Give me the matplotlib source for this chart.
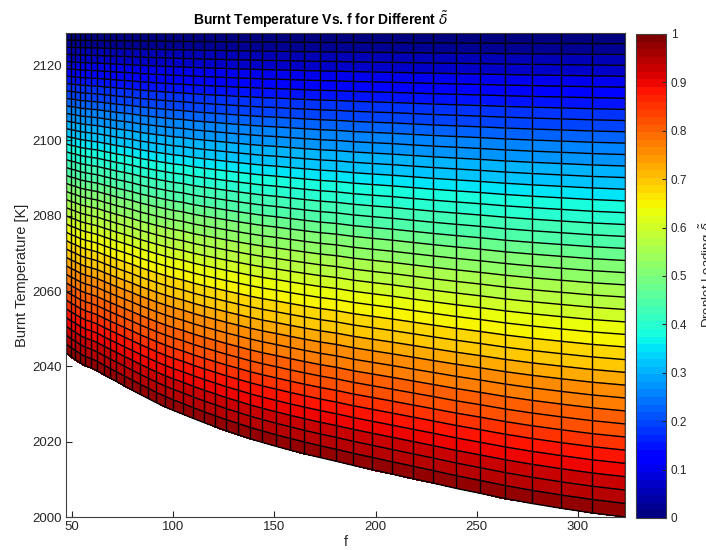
import numpy as np
import matplotlib
matplotlib.use('Agg')
import matplotlib.pyplot as plt

plt.rcParams['font.family'] = ['Liberation Sans', 'DejaVu Sans']
plt.rcParams['mathtext.fontset'] = 'dejavusans'

# mesh columns (f values)
f_vals = [47.0, 49.4, 51.6, 54.1, 56.6, 59.4, 62.5, 65.7, 68.6, 71.9, 75.9,
          79.7, 83.5, 87.5, 91.4, 95.7, 100.1, 104.8, 109.8, 115.0, 120.6,
          126.1, 131.8, 137.8, 144.1, 150.6, 157.5, 164.8, 172.4, 180.5,
          189.0, 198.2, 208.1, 218.3, 228.6, 239.8, 251.6, 264.2, 277.1,
          291.9, 306.8, 323.3]

# burnt temperature at delta = 1 (lower edge of the surface)
T_full = [2043.6, 2042.6, 2041.8, 2040.9, 2040.1, 2039.6, 2038.8, 2037.8,
          2036.9, 2036.0, 2034.8, 2033.7, 2032.6, 2031.5, 2030.4, 2029.3,
          2028.3, 2027.3, 2026.2, 2025.1, 2024.0, 2022.9, 2021.9, 2020.8,
          2019.8, 2018.8, 2017.8, 2016.8, 2015.8, 2014.8, 2013.7, 2012.6,
          2011.4, 2010.2, 2009.0, 2007.6, 2006.3, 2004.9, 2003.6, 2002.3,
          2001.1, 2000.0]

# burnt temperature at delta = 0.5 (estimated from the colours)
T_half = [2088.6, 2088.1, 2087.8, 2087.3, 2087.0, 2086.7, 2086.4, 2085.9,
          2085.5, 2085.0, 2084.5, 2084.0, 2083.4, 2082.9, 2082.4, 2081.9,
          2081.4, 2081.0, 2080.4, 2079.9, 2079.4, 2078.9, 2078.4, 2077.9,
          2077.4, 2077.0, 2076.5, 2076.0, 2075.5, 2075.1, 2074.5, 2074.0,
          2073.5, 2072.9, 2072.3, 2071.7, 2071.1, 2070.4, 2069.8, 2069.2,
          2068.6, 2068.1]

# no droplets -> no dependence on f
T_dry = 2128.5

# droplet loading levels (mesh rows)
delta = np.linspace(0, 1, 41)

f = np.array(f_vals)
F, D = np.meshgrid(f, delta)
# quadratic through the three read curves (delta = 0, 0.5, 1)
L0 = (D - 0.5) * (D - 1) / 0.5
L1 = D * (D - 1) / -0.25
L2 = D * (D - 0.5) / 0.5
T = T_dry * L0 + np.array(T_half)[None, :] * L1 + np.array(T_full)[None, :] * L2
C = np.repeat(delta[:-1, None], len(f) - 1, axis=1)

cmap = plt.get_cmap('jet', 64)

fig = plt.figure(figsize=(7.06, 5.5), dpi=100)
ax = fig.add_axes([66 / 706, 1 - 517 / 550, (625 - 66) / 706, (517 - 33) / 550])
mesh = ax.pcolormesh(F, T, C, cmap=cmap, vmin=0, vmax=1, shading='flat',
                     edgecolors='face', linewidth=0.3)
# mesh lines drawn on top
ax.plot(F, T, color='black', lw=1.0, solid_capstyle='butt')
ax.plot(F.T, T.T, color='black', lw=1.0, solid_capstyle='butt')

ax.set_xlim(f.min(), f.max())
ax.set_ylim(2000, T_dry)
ax.set_xticks([50, 100, 150, 200, 250, 300])
ax.set_yticks([2000, 2020, 2040, 2060, 2080, 2100, 2120])
ax.tick_params(direction='in', length=4, labelsize=9.5, colors='#262626',
               top=False, right=False, pad=3)
for s in ax.spines.values():
    s.set_color('#404040')
    s.set_linewidth(0.8)
    s.set_zorder(5)

ax.set_xlabel('f', fontsize=10, color='#262626', labelpad=1)
ax.set_ylabel('Burnt Temperature [K]', fontsize=10.5, color='#262626', labelpad=2)
ax.set_title(r'Burnt Temperature Vs. f for Different $\tilde{\delta}$',
             fontsize=10, fontweight='bold', pad=6, x=0.455)

cax = fig.add_axes([636 / 706, 1 - 518 / 550, 30 / 706, (518 - 34) / 550])
cb = fig.colorbar(mesh, cax=cax)
cb.set_ticks(np.arange(0, 1.01, 0.1))
cb.set_ticklabels(['0', '0.1', '0.2', '0.3', '0.4', '0.5', '0.6', '0.7',
                   '0.8', '0.9', '1'])
cb.ax.tick_params(direction='in', length=3, labelsize=8.5, colors='#262626')
cb.outline.set_edgecolor('#404040')
cb.outline.set_linewidth(0.8)

fig.text(697 / 706, 0.5, r'Droplet Loading $\tilde{\delta}$', rotation=90,
         ha='left', va='center', fontsize=9.5, color='#262626')

fig.savefig('out.png', dpi=100)
